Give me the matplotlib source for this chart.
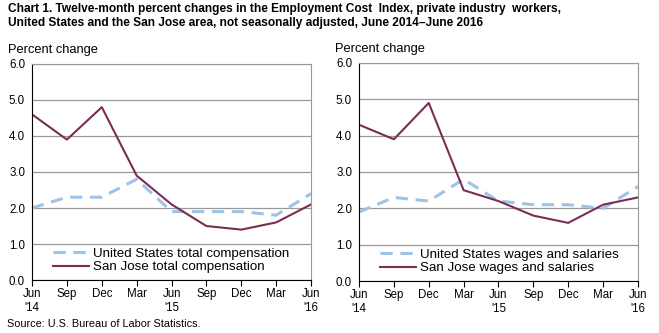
import matplotlib
matplotlib.use("Agg")
import matplotlib.pyplot as plt

plt.rcParams['font.family'] = ['Liberation Sans', 'DejaVu Sans']

months = ["Jun\n'14", "Sep", "Dec", "Mar", "Jun\n'15", "Sep", "Dec", "Mar", "Jun\n'16"]

us_total = [2.0, 2.3, 2.3, 2.8, 1.9, 1.9, 1.9, 1.8, 2.4]
sj_total = [4.6, 3.9, 4.8, 2.9, 2.1, 1.5, 1.4, 1.6, 2.1]
us_wages = [1.9, 2.3, 2.2, 2.8, 2.2, 2.1, 2.1, 2.0, 2.6]
sj_wages = [4.3, 3.9, 4.9, 2.5, 2.2, 1.8, 1.6, 2.1, 2.3]

yticks = [0.0, 1.0, 2.0, 3.0, 4.0, 5.0, 6.0]

blue = '#9DC3E6'
maroon = '#7B2D55'

fig = plt.figure(figsize=(6.59, 3.33), dpi=100)
fig.text(0.012, 0.99, "Chart 1. Twelve-month percent changes in the Employment Cost  Index, private industry  workers,\n"
         "United States and the San Jose area, not seasonally adjusted, June 2014\u2013June 2016",
         fontsize=8.6, fontweight='bold', va='top', ha='left', linespacing=1.2)

panels = [
    ([0.0486, 0.159, 0.4234, 0.649], us_total, sj_total,
     "United States total compensation", "San Jose total compensation"),
    ([0.5448, 0.156, 0.4232, 0.655], us_wages, sj_wages,
     "United States wages and salaries", "San Jose wages and salaries"),
]

x = list(range(len(months)))
for rect, us, sj, us_lab, sj_lab in panels:
    ax = fig.add_axes(rect)
    ax.plot(x, us, color=blue, lw=2.2, dashes=(4, 2.5), label=us_lab)
    ax.plot(x, sj, color=maroon, lw=1.5, label=sj_lab)
    ax.set_xlim(0, 8)
    ax.set_ylim(0, 6)
    ax.set_yticks(yticks)
    ax.set_yticklabels([f"{v:.1f}" for v in yticks], fontsize=8.3)
    ax.set_xticks(x)
    ax.set_xticklabels(months, fontsize=8.3, linespacing=1.2)
    ax.grid(axis='y', color='#999999', lw=0.9)
    ax.set_axisbelow(True)
    ax.spines['left'].set_color('black')
    ax.spines['bottom'].set_color('black')
    ax.spines['top'].set_color('#999999')
    ax.spines['right'].set_color('#999999')
    ax.tick_params(axis='y', length=0, pad=5)
    ax.tick_params(axis='x', length=4, direction='out', color='black', pad=2)
    ax.text(-0.085, 1.035, "Percent change", transform=ax.transAxes, fontsize=9.3, ha='left', va='bottom')
    ax.legend(loc='lower left', bbox_to_anchor=(0.05, 0.0), frameon=False, fontsize=9.6,
              handlelength=2.7, handletextpad=0.3, labelspacing=0.1, borderaxespad=0.1)

fig.text(0.01, 0.012, "Source: U.S. Bureau of Labor Statistics.", fontsize=7.8, ha='left', va='bottom')

fig.savefig("out.png", dpi=100)
